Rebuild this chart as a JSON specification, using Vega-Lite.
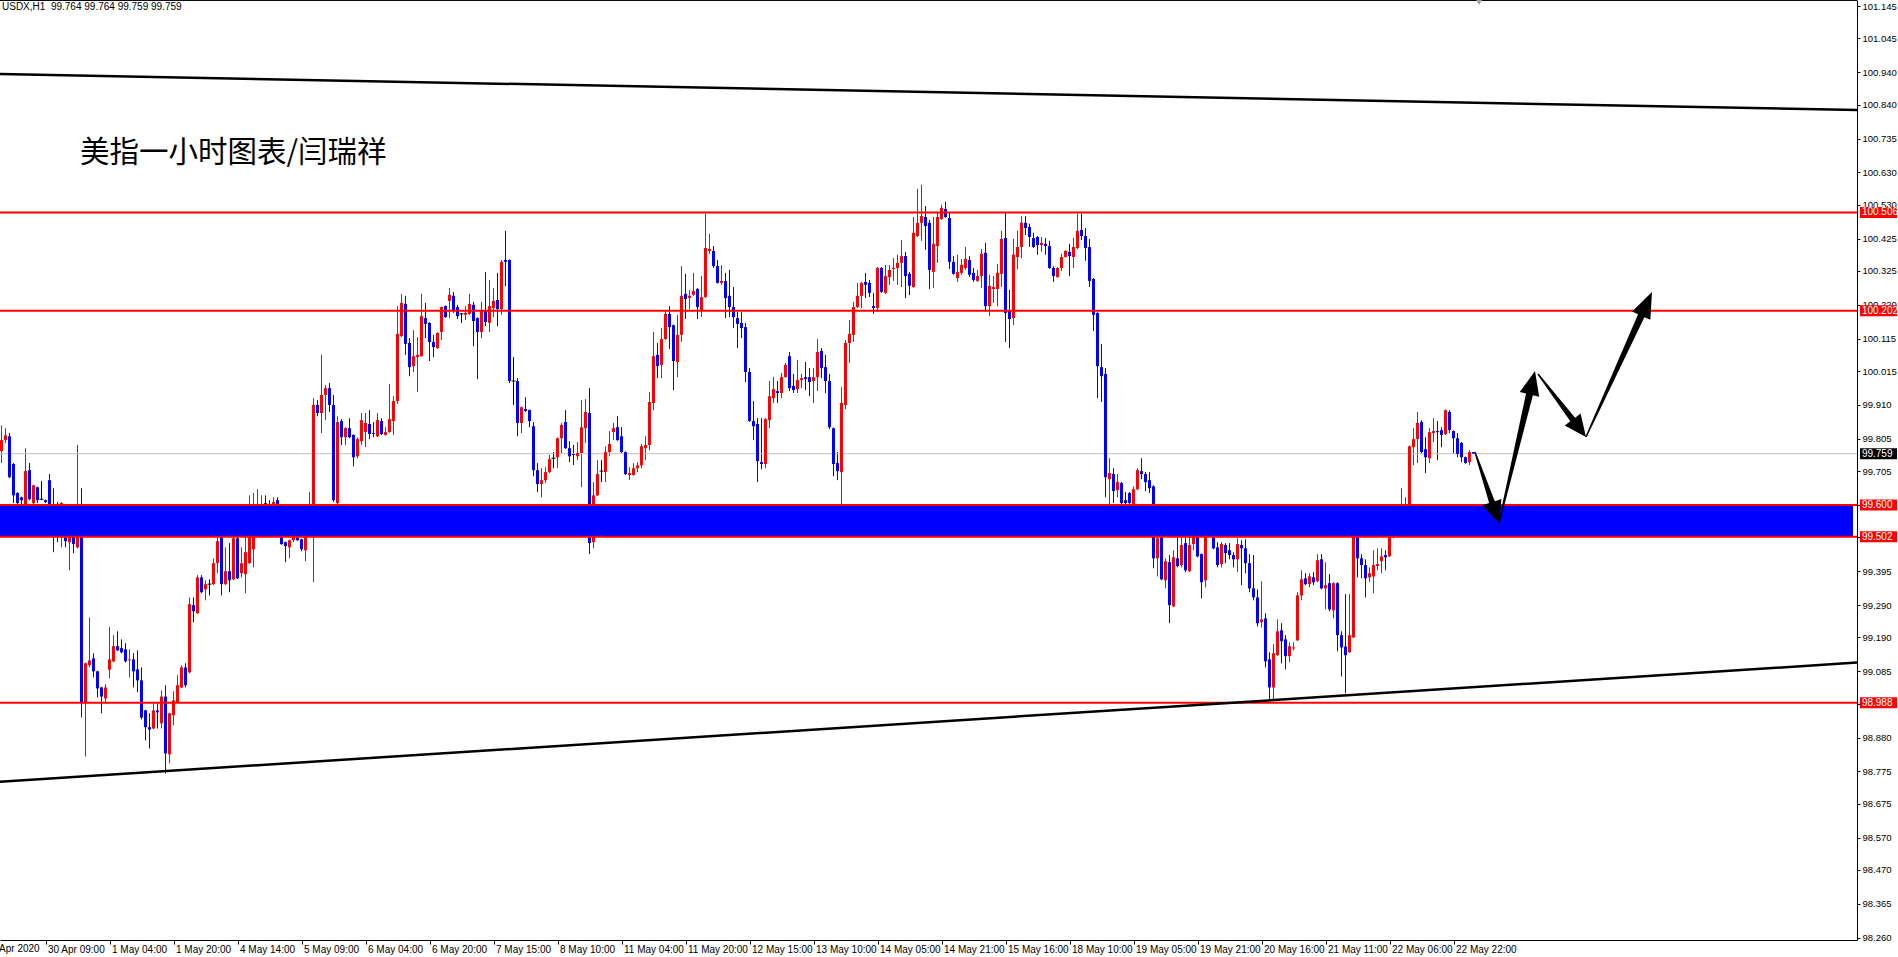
{
"$schema":"https://vega.github.io/schema/vega-lite/v6.json",
"width":1857,"height":940,
"autosize":{"type":"none"},
"padding":{"left":0,"top":0,"right":41,"bottom":17},
"background":"white",
"config":{"view":{"stroke":null},"scale":{"continuousPadding":0},"axis":{"labelFont":"Liberation Sans","labelColor":"black","domainColor":"black","tickColor":"black","grid":false,"labelOverlap":false,"labelFlush":false,"labelBound":false}},
"datasets":{
"candles":[
{"i":0,"o":99.767,"h":99.847,"l":99.730,"c":99.801},
{"i":1,"o":99.801,"h":99.838,"l":99.792,"c":99.816},
{"i":2,"o":99.813,"h":99.823,"l":99.684,"c":99.686},
{"i":3,"o":99.727,"h":99.730,"l":99.606,"c":99.630},
{"i":4,"o":99.637,"h":99.640,"l":99.599,"c":99.606},
{"i":5,"o":99.624,"h":99.626,"l":99.584,"c":99.615},
{"i":6,"o":99.556,"h":99.776,"l":99.547,"c":99.705},
{"i":7,"o":99.708,"h":99.730,"l":99.615,"c":99.618},
{"i":8,"o":99.606,"h":99.663,"l":99.575,"c":99.661},
{"i":9,"o":99.655,"h":99.657,"l":99.606,"c":99.615},
{"i":10,"o":99.618,"h":99.674,"l":99.615,"c":99.618},
{"i":11,"o":99.615,"h":99.617,"l":99.606,"c":99.609},
{"i":12,"o":99.677,"h":99.696,"l":99.553,"c":99.569},
{"i":13,"o":99.569,"h":99.652,"l":99.454,"c":99.538},
{"i":14,"o":99.553,"h":99.609,"l":99.485,"c":99.528},
{"i":15,"o":99.500,"h":99.609,"l":99.469,"c":99.606},
{"i":16,"o":99.522,"h":99.524,"l":99.469,"c":99.488},
{"i":17,"o":99.485,"h":99.541,"l":99.398,"c":99.528},
{"i":18,"o":99.522,"h":99.524,"l":99.451,"c":99.479},
{"i":19,"o":99.469,"h":99.786,"l":99.466,"c":99.590},
{"i":20,"o":99.562,"h":99.652,"l":98.942,"c":98.986},
{"i":21,"o":98.989,"h":99.112,"l":98.821,"c":99.110},
{"i":22,"o":99.104,"h":99.252,"l":99.098,"c":99.119},
{"i":23,"o":99.125,"h":99.141,"l":99.066,"c":99.085},
{"i":24,"o":99.085,"h":99.087,"l":99.004,"c":99.032},
{"i":25,"o":99.035,"h":99.037,"l":98.955,"c":99.007},
{"i":26,"o":99.001,"h":99.045,"l":98.986,"c":99.035},
{"i":27,"o":99.090,"h":99.222,"l":99.063,"c":99.122},
{"i":28,"o":99.116,"h":99.197,"l":99.113,"c":99.163},
{"i":29,"o":99.163,"h":99.209,"l":99.148,"c":99.150},
{"i":30,"o":99.157,"h":99.184,"l":99.141,"c":99.144},
{"i":31,"o":99.153,"h":99.172,"l":99.113,"c":99.116},
{"i":32,"o":99.119,"h":99.153,"l":99.066,"c":99.122},
{"i":33,"o":99.122,"h":99.141,"l":99.035,"c":99.085},
{"i":34,"o":99.091,"h":99.150,"l":99.020,"c":99.057},
{"i":35,"o":99.057,"h":99.097,"l":98.936,"c":98.942},
{"i":36,"o":98.964,"h":98.966,"l":98.871,"c":98.912},
{"i":37,"o":98.912,"h":98.955,"l":98.846,"c":98.905},
{"i":38,"o":98.908,"h":98.989,"l":98.906,"c":98.964},
{"i":39,"o":98.964,"h":98.986,"l":98.908,"c":98.958},
{"i":40,"o":98.924,"h":99.026,"l":98.908,"c":99.007},
{"i":41,"o":99.007,"h":99.042,"l":98.769,"c":98.831},
{"i":42,"o":98.828,"h":98.957,"l":98.800,"c":98.955},
{"i":43,"o":98.949,"h":99.023,"l":98.918,"c":98.995},
{"i":44,"o":98.989,"h":99.073,"l":98.986,"c":99.042},
{"i":45,"o":99.035,"h":99.104,"l":99.033,"c":99.097},
{"i":46,"o":99.097,"h":99.110,"l":99.035,"c":99.042},
{"i":47,"o":99.082,"h":99.314,"l":99.079,"c":99.293},
{"i":48,"o":99.290,"h":99.314,"l":99.237,"c":99.271},
{"i":49,"o":99.265,"h":99.383,"l":99.263,"c":99.376},
{"i":50,"o":99.376,"h":99.383,"l":99.327,"c":99.330},
{"i":51,"o":99.339,"h":99.367,"l":99.305,"c":99.355},
{"i":52,"o":99.355,"h":99.370,"l":99.320,"c":99.355},
{"i":53,"o":99.355,"h":99.435,"l":99.352,"c":99.420},
{"i":54,"o":99.420,"h":99.500,"l":99.389,"c":99.488},
{"i":55,"o":99.500,"h":99.513,"l":99.320,"c":99.355},
{"i":56,"o":99.355,"h":99.469,"l":99.352,"c":99.395},
{"i":57,"o":99.395,"h":99.482,"l":99.330,"c":99.367},
{"i":58,"o":99.370,"h":99.507,"l":99.367,"c":99.497},
{"i":59,"o":99.497,"h":99.513,"l":99.371,"c":99.373},
{"i":60,"o":99.389,"h":99.469,"l":99.376,"c":99.420},
{"i":61,"o":99.386,"h":99.507,"l":99.327,"c":99.454},
{"i":62,"o":99.420,"h":99.630,"l":99.418,"c":99.516},
{"i":63,"o":99.463,"h":99.637,"l":99.407,"c":99.547},
{"i":64,"o":99.547,"h":99.649,"l":99.544,"c":99.559},
{"i":65,"o":99.556,"h":99.630,"l":99.553,"c":99.600},
{"i":66,"o":99.606,"h":99.630,"l":99.601,"c":99.603},
{"i":67,"o":99.600,"h":99.615,"l":99.553,"c":99.569},
{"i":68,"o":99.556,"h":99.624,"l":99.531,"c":99.609},
{"i":69,"o":99.615,"h":99.624,"l":99.538,"c":99.553},
{"i":70,"o":99.500,"h":99.502,"l":99.477,"c":99.479},
{"i":71,"o":99.485,"h":99.487,"l":99.423,"c":99.473},
{"i":72,"o":99.469,"h":99.493,"l":99.435,"c":99.491},
{"i":73,"o":99.491,"h":99.525,"l":99.485,"c":99.516},
{"i":74,"o":99.500,"h":99.502,"l":99.489,"c":99.491},
{"i":75,"o":99.494,"h":99.496,"l":99.457,"c":99.463},
{"i":76,"o":99.460,"h":99.538,"l":99.426,"c":99.519},
{"i":77,"o":99.516,"h":99.640,"l":99.513,"c":99.547},
{"i":78,"o":99.547,"h":99.931,"l":99.361,"c":99.910},
{"i":79,"o":99.910,"h":99.925,"l":99.875,"c":99.885},
{"i":80,"o":99.885,"h":100.065,"l":99.823,"c":99.941},
{"i":81,"o":99.941,"h":99.972,"l":99.863,"c":99.962},
{"i":82,"o":99.962,"h":99.978,"l":99.888,"c":99.910},
{"i":83,"o":99.910,"h":99.941,"l":99.609,"c":99.615},
{"i":84,"o":99.606,"h":99.875,"l":99.575,"c":99.857},
{"i":85,"o":99.860,"h":99.866,"l":99.786,"c":99.810},
{"i":86,"o":99.810,"h":99.841,"l":99.786,"c":99.838},
{"i":87,"o":99.838,"h":99.869,"l":99.807,"c":99.810},
{"i":88,"o":99.817,"h":99.819,"l":99.720,"c":99.748},
{"i":89,"o":99.751,"h":99.810,"l":99.745,"c":99.804},
{"i":90,"o":99.798,"h":99.885,"l":99.786,"c":99.863},
{"i":91,"o":99.826,"h":99.885,"l":99.779,"c":99.854},
{"i":92,"o":99.851,"h":99.894,"l":99.804,"c":99.820},
{"i":93,"o":99.823,"h":99.857,"l":99.810,"c":99.820},
{"i":94,"o":99.813,"h":99.885,"l":99.810,"c":99.863},
{"i":95,"o":99.860,"h":99.869,"l":99.817,"c":99.820},
{"i":96,"o":99.817,"h":99.841,"l":99.815,"c":99.826},
{"i":97,"o":99.826,"h":99.975,"l":99.824,"c":99.866},
{"i":98,"o":99.860,"h":99.937,"l":99.817,"c":99.922},
{"i":99,"o":99.922,"h":100.216,"l":99.913,"c":100.130},
{"i":100,"o":100.123,"h":100.254,"l":100.120,"c":100.226},
{"i":101,"o":100.223,"h":100.248,"l":100.065,"c":100.099},
{"i":102,"o":100.102,"h":100.117,"l":99.999,"c":100.027},
{"i":103,"o":100.030,"h":100.142,"l":100.012,"c":100.061},
{"i":104,"o":100.058,"h":100.120,"l":99.950,"c":100.065},
{"i":105,"o":100.061,"h":100.254,"l":100.059,"c":100.185},
{"i":106,"o":100.179,"h":100.226,"l":100.117,"c":100.161},
{"i":107,"o":100.164,"h":100.166,"l":100.046,"c":100.105},
{"i":108,"o":100.105,"h":100.127,"l":100.058,"c":100.089},
{"i":109,"o":100.086,"h":100.135,"l":100.084,"c":100.133},
{"i":110,"o":100.136,"h":100.215,"l":100.111,"c":100.213},
{"i":111,"o":100.216,"h":100.218,"l":100.180,"c":100.182},
{"i":112,"o":100.232,"h":100.272,"l":100.179,"c":100.251},
{"i":113,"o":100.248,"h":100.260,"l":100.195,"c":100.204},
{"i":114,"o":100.213,"h":100.220,"l":100.176,"c":100.185},
{"i":115,"o":100.192,"h":100.195,"l":100.164,"c":100.192},
{"i":116,"o":100.189,"h":100.216,"l":100.173,"c":100.195},
{"i":117,"o":100.192,"h":100.254,"l":100.189,"c":100.223},
{"i":118,"o":100.220,"h":100.229,"l":100.092,"c":100.170},
{"i":119,"o":100.179,"h":100.181,"l":99.990,"c":100.136},
{"i":120,"o":100.136,"h":100.229,"l":100.117,"c":100.201},
{"i":121,"o":100.201,"h":100.322,"l":100.154,"c":100.167},
{"i":122,"o":100.164,"h":100.297,"l":100.136,"c":100.216},
{"i":123,"o":100.210,"h":100.272,"l":100.182,"c":100.232},
{"i":124,"o":100.235,"h":100.319,"l":100.154,"c":100.207},
{"i":125,"o":100.207,"h":100.359,"l":100.189,"c":100.353},
{"i":126,"o":100.359,"h":100.449,"l":100.278,"c":100.353},
{"i":127,"o":100.359,"h":100.361,"l":99.978,"c":99.984},
{"i":128,"o":99.984,"h":100.058,"l":99.910,"c":99.984},
{"i":129,"o":99.984,"h":99.993,"l":99.813,"c":99.854},
{"i":130,"o":99.854,"h":99.905,"l":99.823,"c":99.903},
{"i":131,"o":99.897,"h":99.934,"l":99.889,"c":99.891},
{"i":132,"o":99.894,"h":99.896,"l":99.841,"c":99.860},
{"i":133,"o":99.844,"h":99.857,"l":99.689,"c":99.708},
{"i":134,"o":99.708,"h":99.730,"l":99.640,"c":99.665},
{"i":135,"o":99.665,"h":99.714,"l":99.624,"c":99.677},
{"i":136,"o":99.677,"h":99.717,"l":99.668,"c":99.702},
{"i":137,"o":99.702,"h":99.755,"l":99.699,"c":99.742},
{"i":138,"o":99.745,"h":99.764,"l":99.714,"c":99.745},
{"i":139,"o":99.748,"h":99.809,"l":99.714,"c":99.807},
{"i":140,"o":99.807,"h":99.854,"l":99.761,"c":99.848},
{"i":141,"o":99.857,"h":99.894,"l":99.774,"c":99.776},
{"i":142,"o":99.776,"h":99.798,"l":99.733,"c":99.751},
{"i":143,"o":99.758,"h":99.786,"l":99.724,"c":99.755},
{"i":144,"o":99.751,"h":99.795,"l":99.739,"c":99.761},
{"i":145,"o":99.761,"h":99.925,"l":99.655,"c":99.841},
{"i":146,"o":99.838,"h":99.928,"l":99.792,"c":99.888},
{"i":147,"o":99.885,"h":99.962,"l":99.448,"c":99.482},
{"i":148,"o":99.485,"h":99.671,"l":99.466,"c":99.630},
{"i":149,"o":99.630,"h":99.739,"l":99.628,"c":99.696},
{"i":150,"o":99.705,"h":99.739,"l":99.671,"c":99.705},
{"i":151,"o":99.702,"h":99.782,"l":99.671,"c":99.764},
{"i":152,"o":99.764,"h":99.829,"l":99.751,"c":99.789},
{"i":153,"o":99.826,"h":99.854,"l":99.801,"c":99.838},
{"i":154,"o":99.841,"h":99.875,"l":99.799,"c":99.801},
{"i":155,"o":99.813,"h":99.841,"l":99.761,"c":99.764},
{"i":156,"o":99.764,"h":99.766,"l":99.693,"c":99.696},
{"i":157,"o":99.693,"h":99.717,"l":99.677,"c":99.699},
{"i":158,"o":99.693,"h":99.730,"l":99.691,"c":99.714},
{"i":159,"o":99.714,"h":99.733,"l":99.702,"c":99.723},
{"i":160,"o":99.723,"h":99.789,"l":99.714,"c":99.782},
{"i":161,"o":99.776,"h":99.813,"l":99.739,"c":99.786},
{"i":162,"o":99.786,"h":99.950,"l":99.770,"c":99.919},
{"i":163,"o":99.916,"h":100.136,"l":99.894,"c":100.061},
{"i":164,"o":100.065,"h":100.102,"l":99.993,"c":100.030},
{"i":165,"o":100.034,"h":100.148,"l":99.993,"c":100.114},
{"i":166,"o":100.114,"h":100.204,"l":100.111,"c":100.192},
{"i":167,"o":100.192,"h":100.216,"l":100.083,"c":100.151},
{"i":168,"o":100.157,"h":100.159,"l":99.956,"c":100.046},
{"i":169,"o":100.043,"h":100.189,"l":99.996,"c":100.127},
{"i":170,"o":100.127,"h":100.340,"l":100.105,"c":100.248},
{"i":171,"o":100.254,"h":100.316,"l":100.176,"c":100.238},
{"i":172,"o":100.241,"h":100.266,"l":100.207,"c":100.248},
{"i":173,"o":100.251,"h":100.319,"l":100.248,"c":100.263},
{"i":174,"o":100.269,"h":100.272,"l":100.176,"c":100.213},
{"i":175,"o":100.204,"h":100.309,"l":100.182,"c":100.244},
{"i":176,"o":100.244,"h":100.502,"l":100.241,"c":100.396},
{"i":177,"o":100.387,"h":100.440,"l":100.378,"c":100.393},
{"i":178,"o":100.387,"h":100.402,"l":100.334,"c":100.340},
{"i":179,"o":100.340,"h":100.359,"l":100.286,"c":100.288},
{"i":180,"o":100.288,"h":100.343,"l":100.282,"c":100.294},
{"i":181,"o":100.294,"h":100.319,"l":100.179,"c":100.241},
{"i":182,"o":100.248,"h":100.328,"l":100.182,"c":100.213},
{"i":183,"o":100.213,"h":100.275,"l":100.148,"c":100.182},
{"i":184,"o":100.179,"h":100.198,"l":100.086,"c":100.161},
{"i":185,"o":100.164,"h":100.198,"l":100.117,"c":100.148},
{"i":186,"o":100.151,"h":100.164,"l":99.981,"c":100.012},
{"i":187,"o":100.012,"h":100.024,"l":99.858,"c":99.860},
{"i":188,"o":99.860,"h":99.922,"l":99.801,"c":99.844},
{"i":189,"o":99.851,"h":99.869,"l":99.671,"c":99.736},
{"i":190,"o":99.733,"h":99.869,"l":99.711,"c":99.727},
{"i":191,"o":99.727,"h":99.869,"l":99.714,"c":99.866},
{"i":192,"o":99.863,"h":99.984,"l":99.838,"c":99.937},
{"i":193,"o":99.931,"h":99.997,"l":99.916,"c":99.959},
{"i":194,"o":99.953,"h":99.984,"l":99.916,"c":99.947},
{"i":195,"o":99.947,"h":100.009,"l":99.931,"c":99.996},
{"i":196,"o":99.996,"h":100.040,"l":99.994,"c":100.034},
{"i":197,"o":100.061,"h":100.074,"l":99.953,"c":99.962},
{"i":198,"o":99.969,"h":100.006,"l":99.947,"c":99.956},
{"i":199,"o":99.959,"h":100.049,"l":99.947,"c":99.987},
{"i":200,"o":99.987,"h":100.006,"l":99.962,"c":99.993},
{"i":201,"o":99.996,"h":100.043,"l":99.956,"c":99.990},
{"i":202,"o":99.996,"h":100.024,"l":99.937,"c":99.981},
{"i":203,"o":99.984,"h":100.024,"l":99.916,"c":99.996},
{"i":204,"o":99.996,"h":100.114,"l":99.953,"c":100.074},
{"i":205,"o":100.077,"h":100.086,"l":99.993,"c":100.024},
{"i":206,"o":100.027,"h":100.065,"l":99.947,"c":99.984},
{"i":207,"o":99.984,"h":100.006,"l":99.835,"c":99.841},
{"i":208,"o":99.838,"h":99.840,"l":99.689,"c":99.727},
{"i":209,"o":99.730,"h":99.764,"l":99.677,"c":99.705},
{"i":210,"o":99.702,"h":99.965,"l":99.578,"c":99.916},
{"i":211,"o":99.910,"h":100.111,"l":99.897,"c":100.102},
{"i":212,"o":100.102,"h":100.173,"l":100.040,"c":100.130},
{"i":213,"o":100.127,"h":100.229,"l":100.105,"c":100.213},
{"i":214,"o":100.213,"h":100.288,"l":100.210,"c":100.248},
{"i":215,"o":100.248,"h":100.290,"l":100.210,"c":100.288},
{"i":216,"o":100.291,"h":100.319,"l":100.241,"c":100.282},
{"i":217,"o":100.288,"h":100.297,"l":100.244,"c":100.257},
{"i":218,"o":100.216,"h":100.257,"l":100.192,"c":100.210},
{"i":219,"o":100.210,"h":100.337,"l":100.198,"c":100.334},
{"i":220,"o":100.334,"h":100.337,"l":100.257,"c":100.260},
{"i":221,"o":100.257,"h":100.343,"l":100.254,"c":100.309},
{"i":222,"o":100.306,"h":100.343,"l":100.282,"c":100.328},
{"i":223,"o":100.331,"h":100.365,"l":100.294,"c":100.334},
{"i":224,"o":100.334,"h":100.375,"l":100.282,"c":100.350},
{"i":225,"o":100.350,"h":100.421,"l":100.275,"c":100.371},
{"i":226,"o":100.371,"h":100.384,"l":100.241,"c":100.309},
{"i":227,"o":100.316,"h":100.322,"l":100.250,"c":100.279},
{"i":228,"o":100.275,"h":100.492,"l":100.273,"c":100.443},
{"i":229,"o":100.433,"h":100.579,"l":100.430,"c":100.474},
{"i":230,"o":100.474,"h":100.592,"l":100.418,"c":100.495},
{"i":231,"o":100.492,"h":100.526,"l":100.390,"c":100.464},
{"i":232,"o":100.474,"h":100.483,"l":100.269,"c":100.328},
{"i":233,"o":100.322,"h":100.492,"l":100.272,"c":100.409},
{"i":234,"o":100.402,"h":100.505,"l":100.350,"c":100.492},
{"i":235,"o":100.486,"h":100.530,"l":100.483,"c":100.520},
{"i":236,"o":100.517,"h":100.539,"l":100.489,"c":100.492},
{"i":237,"o":100.489,"h":100.505,"l":100.331,"c":100.353},
{"i":238,"o":100.353,"h":100.371,"l":100.313,"c":100.316},
{"i":239,"o":100.303,"h":100.375,"l":100.291,"c":100.322},
{"i":240,"o":100.319,"h":100.362,"l":100.313,"c":100.344},
{"i":241,"o":100.334,"h":100.399,"l":100.328,"c":100.362},
{"i":242,"o":100.359,"h":100.371,"l":100.306,"c":100.313},
{"i":243,"o":100.319,"h":100.334,"l":100.291,"c":100.297},
{"i":244,"o":100.294,"h":100.328,"l":100.291,"c":100.309},
{"i":245,"o":100.309,"h":100.393,"l":100.272,"c":100.378},
{"i":246,"o":100.381,"h":100.412,"l":100.198,"c":100.216},
{"i":247,"o":100.216,"h":100.313,"l":100.185,"c":100.279},
{"i":248,"o":100.269,"h":100.309,"l":100.226,"c":100.275},
{"i":249,"o":100.269,"h":100.347,"l":100.216,"c":100.319},
{"i":250,"o":100.316,"h":100.449,"l":100.275,"c":100.424},
{"i":251,"o":100.427,"h":100.505,"l":100.105,"c":100.195},
{"i":252,"o":100.204,"h":100.266,"l":100.086,"c":100.176},
{"i":253,"o":100.179,"h":100.424,"l":100.157,"c":100.375},
{"i":254,"o":100.368,"h":100.449,"l":100.331,"c":100.399},
{"i":255,"o":100.399,"h":100.495,"l":100.365,"c":100.474},
{"i":256,"o":100.474,"h":100.495,"l":100.436,"c":100.458},
{"i":257,"o":100.461,"h":100.471,"l":100.399,"c":100.430},
{"i":258,"o":100.427,"h":100.443,"l":100.396,"c":100.399},
{"i":259,"o":100.430,"h":100.433,"l":100.375,"c":100.405},
{"i":260,"o":100.405,"h":100.430,"l":100.384,"c":100.412},
{"i":261,"o":100.409,"h":100.427,"l":100.375,"c":100.402},
{"i":262,"o":100.402,"h":100.418,"l":100.331,"c":100.334},
{"i":263,"o":100.334,"h":100.340,"l":100.291,"c":100.309},
{"i":264,"o":100.306,"h":100.337,"l":100.304,"c":100.334},
{"i":265,"o":100.334,"h":100.378,"l":100.325,"c":100.368},
{"i":266,"o":100.368,"h":100.389,"l":100.366,"c":100.387},
{"i":267,"o":100.384,"h":100.409,"l":100.309,"c":100.371},
{"i":268,"o":100.368,"h":100.427,"l":100.334,"c":100.399},
{"i":269,"o":100.396,"h":100.502,"l":100.393,"c":100.449},
{"i":270,"o":100.452,"h":100.502,"l":100.421,"c":100.433},
{"i":271,"o":100.433,"h":100.458,"l":100.356,"c":100.396},
{"i":272,"o":100.399,"h":100.424,"l":100.275,"c":100.294},
{"i":273,"o":100.300,"h":100.303,"l":100.139,"c":100.189},
{"i":274,"o":100.195,"h":100.197,"l":99.931,"c":100.030},
{"i":275,"o":100.027,"h":100.099,"l":99.919,"c":99.999},
{"i":276,"o":100.006,"h":100.024,"l":99.624,"c":99.686},
{"i":277,"o":99.680,"h":99.745,"l":99.600,"c":99.699},
{"i":278,"o":99.696,"h":99.714,"l":99.606,"c":99.643},
{"i":279,"o":99.646,"h":99.696,"l":99.624,"c":99.671},
{"i":280,"o":99.668,"h":99.671,"l":99.600,"c":99.606},
{"i":281,"o":99.615,"h":99.640,"l":99.600,"c":99.606},
{"i":282,"o":99.637,"h":99.640,"l":99.600,"c":99.606},
{"i":283,"o":99.575,"h":99.658,"l":99.573,"c":99.649},
{"i":284,"o":99.649,"h":99.714,"l":99.646,"c":99.708},
{"i":285,"o":99.705,"h":99.745,"l":99.680,"c":99.696},
{"i":286,"o":99.696,"h":99.702,"l":99.643,"c":99.671},
{"i":287,"o":99.677,"h":99.702,"l":99.637,"c":99.652},
{"i":288,"o":99.658,"h":99.661,"l":99.404,"c":99.435},
{"i":289,"o":99.435,"h":99.538,"l":99.379,"c":99.497},
{"i":290,"o":99.500,"h":99.503,"l":99.367,"c":99.370},
{"i":291,"o":99.367,"h":99.435,"l":99.342,"c":99.426},
{"i":292,"o":99.423,"h":99.445,"l":99.234,"c":99.290},
{"i":293,"o":99.286,"h":99.460,"l":99.284,"c":99.438},
{"i":294,"o":99.435,"h":99.503,"l":99.407,"c":99.411},
{"i":295,"o":99.414,"h":99.559,"l":99.407,"c":99.476},
{"i":296,"o":99.482,"h":99.500,"l":99.392,"c":99.398},
{"i":297,"o":99.395,"h":99.562,"l":99.393,"c":99.476},
{"i":298,"o":99.479,"h":99.531,"l":99.460,"c":99.525},
{"i":299,"o":99.500,"h":99.513,"l":99.438,"c":99.441},
{"i":300,"o":99.448,"h":99.450,"l":99.311,"c":99.361},
{"i":301,"o":99.367,"h":99.540,"l":99.345,"c":99.538},
{"i":302,"o":99.531,"h":99.596,"l":99.522,"c":99.556},
{"i":303,"o":99.500,"h":99.513,"l":99.463,"c":99.466},
{"i":304,"o":99.469,"h":99.485,"l":99.407,"c":99.414},
{"i":305,"o":99.417,"h":99.485,"l":99.407,"c":99.479},
{"i":306,"o":99.476,"h":99.482,"l":99.420,"c":99.451},
{"i":307,"o":99.460,"h":99.482,"l":99.432,"c":99.445},
{"i":308,"o":99.445,"h":99.454,"l":99.407,"c":99.432},
{"i":309,"o":99.432,"h":99.497,"l":99.392,"c":99.479},
{"i":310,"o":99.476,"h":99.491,"l":99.352,"c":99.466},
{"i":311,"o":99.466,"h":99.494,"l":99.389,"c":99.420},
{"i":312,"o":99.420,"h":99.448,"l":99.330,"c":99.342},
{"i":313,"o":99.342,"h":99.445,"l":99.305,"c":99.314},
{"i":314,"o":99.314,"h":99.339,"l":99.224,"c":99.234},
{"i":315,"o":99.237,"h":99.364,"l":99.221,"c":99.246},
{"i":316,"o":99.249,"h":99.265,"l":99.097,"c":99.116},
{"i":317,"o":99.122,"h":99.144,"l":98.998,"c":99.035},
{"i":318,"o":99.035,"h":99.169,"l":98.998,"c":99.141},
{"i":319,"o":99.135,"h":99.246,"l":99.133,"c":99.209},
{"i":320,"o":99.212,"h":99.234,"l":99.110,"c":99.178},
{"i":321,"o":99.184,"h":99.197,"l":99.091,"c":99.132},
{"i":322,"o":99.132,"h":99.175,"l":99.113,"c":99.163},
{"i":323,"o":99.156,"h":99.175,"l":99.150,"c":99.159},
{"i":324,"o":99.181,"h":99.330,"l":99.179,"c":99.320},
{"i":325,"o":99.320,"h":99.398,"l":99.305,"c":99.370},
{"i":326,"o":99.373,"h":99.389,"l":99.352,"c":99.355},
{"i":327,"o":99.355,"h":99.389,"l":99.345,"c":99.379},
{"i":328,"o":99.376,"h":99.392,"l":99.352,"c":99.361},
{"i":329,"o":99.364,"h":99.448,"l":99.361,"c":99.429},
{"i":330,"o":99.432,"h":99.448,"l":99.339,"c":99.342},
{"i":331,"o":99.342,"h":99.423,"l":99.277,"c":99.352},
{"i":332,"o":99.358,"h":99.386,"l":99.271,"c":99.277},
{"i":333,"o":99.274,"h":99.361,"l":99.249,"c":99.358},
{"i":334,"o":99.358,"h":99.361,"l":99.147,"c":99.197},
{"i":335,"o":99.197,"h":99.209,"l":99.069,"c":99.159},
{"i":336,"o":99.162,"h":99.324,"l":99.017,"c":99.135},
{"i":337,"o":99.144,"h":99.324,"l":99.142,"c":99.197},
{"i":338,"o":99.190,"h":99.531,"l":99.188,"c":99.522},
{"i":339,"o":99.513,"h":99.531,"l":99.376,"c":99.435},
{"i":340,"o":99.435,"h":99.448,"l":99.373,"c":99.414},
{"i":341,"o":99.414,"h":99.432,"l":99.314,"c":99.373},
{"i":342,"o":99.376,"h":99.407,"l":99.361,"c":99.389},
{"i":343,"o":99.379,"h":99.460,"l":99.327,"c":99.414},
{"i":344,"o":99.411,"h":99.466,"l":99.398,"c":99.417},
{"i":345,"o":99.426,"h":99.466,"l":99.389,"c":99.441},
{"i":346,"o":99.445,"h":99.460,"l":99.398,"c":99.438},
{"i":347,"o":99.441,"h":99.547,"l":99.439,"c":99.510},
{"i":348,"o":99.510,"h":99.593,"l":99.497,"c":99.559},
{"i":349,"o":99.559,"h":99.596,"l":99.553,"c":99.581},
{"i":350,"o":99.575,"h":99.652,"l":99.553,"c":99.584},
{"i":351,"o":99.584,"h":99.624,"l":99.553,"c":99.600},
{"i":352,"o":99.596,"h":99.784,"l":99.581,"c":99.782},
{"i":353,"o":99.779,"h":99.838,"l":99.724,"c":99.804},
{"i":354,"o":99.804,"h":99.888,"l":99.730,"c":99.854},
{"i":355,"o":99.857,"h":99.863,"l":99.758,"c":99.764},
{"i":356,"o":99.773,"h":99.810,"l":99.699,"c":99.748},
{"i":357,"o":99.745,"h":99.838,"l":99.730,"c":99.826},
{"i":358,"o":99.823,"h":99.869,"l":99.795,"c":99.829},
{"i":359,"o":99.829,"h":99.860,"l":99.739,"c":99.826},
{"i":360,"o":99.832,"h":99.841,"l":99.779,"c":99.817},
{"i":361,"o":99.820,"h":99.896,"l":99.817,"c":99.894},
{"i":362,"o":99.888,"h":99.894,"l":99.823,"c":99.832},
{"i":363,"o":99.829,"h":99.831,"l":99.761,"c":99.807},
{"i":364,"o":99.807,"h":99.823,"l":99.748,"c":99.758},
{"i":365,"o":99.792,"h":99.795,"l":99.733,"c":99.748},
{"i":366,"o":99.748,"h":99.750,"l":99.728,"c":99.730},
{"i":367,"o":99.733,"h":99.770,"l":99.724,"c":99.764},
{"i":368,"o":99.764,"h":99.764,"l":99.759,"c":99.759}
],
"levels":[{"p":100.506},{"p":100.202},{"p":99.600},{"p":99.502},{"p":98.988}],
"tags":[{"p":100.506},{"p":100.202},{"p":99.600},{"p":99.502},{"p":98.988},{"p":99.759}],
"trends":[{"x1":-0.375,"p1":100.935,"x2":463.875,"p2":100.823},{"x1":-0.375,"p1":98.743,"x2":463.875,"p2":99.112}],
"arrows":[
{"a":1,"k":0,"x":368.21,"p":99.7635},{"a":1,"k":1,"x":371.91,"p":99.606},{"a":1,"k":2,"x":370.25,"p":99.599},{"a":1,"k":3,"x":374.375,"p":99.5443},{"a":1,"k":4,"x":374.985,"p":99.6188},{"a":1,"k":5,"x":373.325,"p":99.6119},{"a":1,"k":6,"x":368.54,"p":99.7649},
{"a":2,"k":0,"x":374.545,"p":99.5438},{"a":2,"k":1,"x":382.845,"p":99.9402},{"a":2,"k":2,"x":384.425,"p":99.9356},{"a":2,"k":3,"x":383.375,"p":100.0151},{"a":2,"k":4,"x":379.56,"p":99.9499},{"a":2,"k":5,"x":381.14,"p":99.9453},{"a":2,"k":6,"x":374.205,"p":99.5448},
{"a":3,"k":0,"x":383.985,"p":100.0045},{"a":3,"k":1,"x":392.2,"p":99.8592},{"a":3,"k":2,"x":390.805,"p":99.8461},{"a":3,"k":3,"x":396.125,"p":99.8107},{"a":3,"k":4,"x":394.78,"p":99.8836},{"a":3,"k":5,"x":393.39,"p":99.8705},{"a":3,"k":6,"x":384.265,"p":100.0071},
{"a":4,"k":0,"x":396.285,"p":99.8098},{"a":4,"k":1,"x":410.73,"p":100.1819},{"a":4,"k":2,"x":412.2075,"p":100.1736},{"a":4,"k":3,"x":412.625,"p":100.2597},{"a":4,"k":4,"x":407.6575,"p":100.1992},{"a":4,"k":5,"x":409.135,"p":100.1909},{"a":4,"k":6,"x":395.965,"p":99.8116}
]
},
"layer":[
{"data":{"name":"candles"},"mark":{"type":"rule","strokeWidth":1},
 "encoding":{
  "x":{"field":"i","type":"quantitative","scale":{"domain":[-0.375,463.875],"nice":false,"zero":false,"padding":0},
       "axis":{"orient":"bottom","title":null,"tickCount":60,"values":[11,27,43,59,75,91,107,123,139,155,171,187,203,219,235,251,267,283,299,315,331,347,363],
       "labelExpr":"['30 Apr 09:00','1 May 04:00','1 May 20:00','4 May 14:00','5 May 09:00','6 May 04:00','6 May 20:00','7 May 15:00','8 May 10:00','11 May 04:00','11 May 20:00','12 May 15:00','13 May 10:00','14 May 05:00','14 May 21:00','15 May 16:00','18 May 10:00','19 May 05:00','19 May 21:00','20 May 16:00','21 May 11:00','22 May 06:00','22 May 22:00'][(datum.value-11)/16]",
       "labelAlign":"left","labelBaseline":"top","labelOffset":2,"labelPadding":0,"tickSize":4,"labelFontSize":10,"labelFlush":false,"labelOverlap":false}},
  "y":{"field":"l","type":"quantitative","scale":{"domain":[98.253,101.164],"nice":false,"zero":false,"padding":0},
       "axis":{"orient":"right","title":null,"tickCount":60,"values":[101.145,101.045,100.940,100.840,100.735,100.630,100.530,100.425,100.325,100.220,100.115,100.015,99.910,99.805,99.705,99.600,99.500,99.395,99.290,99.190,99.085,98.985,98.880,98.775,98.675,98.570,98.470,98.365,98.260],
       "format":".3f","tickSize":3,"labelPadding":2,"labelFontSize":9.5,"labelFlush":false,"labelOverlap":false}},
  "y2":{"field":"h"},
  "color":{"condition":[{"test":"datum.c > datum.o","value":"#ff0000"},{"test":"datum.c < datum.o","value":"#0000ff"}],"value":"#000000"}}},
{"data":{"values":[{}]},"mark":{"type":"rule","color":"#c0c0c0","strokeWidth":1},
 "encoding":{"y":{"datum":99.759,"type":"quantitative"}}},
{"data":{"name":"candles"},"mark":{"type":"bar","width":3},
 "encoding":{"x":{"field":"i","type":"quantitative"},"y":{"field":"o","type":"quantitative"},"y2":{"field":"c"},
  "color":{"condition":[{"test":"datum.c > datum.o","value":"#ff0000"},{"test":"datum.c < datum.o","value":"#0000ff"}],"value":"#000000"}}},
{"data":{"name":"candles"},"transform":[{"filter":"datum.o == datum.c"}],"mark":{"type":"tick","orient":"horizontal","size":4,"thickness":1,"color":"#000000","opacity":1},
 "encoding":{"x":{"field":"i","type":"quantitative"},"y":{"field":"o","type":"quantitative"}}},
{"data":{"values":[{}]},"mark":{"type":"rect","color":"#0000ff"},
 "encoding":{"x":{"datum":-0.375,"type":"quantitative"},"x2":{"datum":462.875},"y":{"datum":99.600,"type":"quantitative"},"y2":{"datum":99.502}}},
{"data":{"name":"levels"},"mark":{"type":"rule","color":"#ff0000","strokeWidth":2},
 "encoding":{"y":{"field":"p","type":"quantitative"}}},
{"data":{"name":"trends"},"mark":{"type":"rule","color":"#000000","strokeWidth":2.5},
 "encoding":{"x":{"field":"x1","type":"quantitative"},"x2":{"field":"x2"},"y":{"field":"p1","type":"quantitative"},"y2":{"field":"p2"}}},
{"data":{"name":"arrows"},"mark":{"type":"line","filled":true,"color":"#000000","interpolate":"linear"},
 "encoding":{"x":{"field":"x","type":"quantitative"},"y":{"field":"p","type":"quantitative"},"detail":{"field":"a"},"order":{"field":"k","type":"quantitative"}}},
{"data":{"values":[{}]},"mark":{"type":"text","text":"美指一小时图表/闫瑞祥","font":"Noto Sans CJK SC","fontSize":29.5,"align":"left","baseline":"middle","color":"#000000"},
 "encoding":{"x":{"datum":19.6,"type":"quantitative"},"y":{"datum":100.69,"type":"quantitative"}}},
{"data":{"values":[{}]},"mark":{"type":"text","text":"USDX,H1\u00a0\u00a099.764 99.764 99.759 99.759","font":"Liberation Sans","fontSize":10,"align":"left","baseline":"middle","color":"#000000"},
 "encoding":{"x":{"datum":0.125,"type":"quantitative"},"y":{"datum":101.142,"type":"quantitative"}}},
{"data":{"values":[{}]},"mark":{"type":"text","text":"Apr 2020","font":"Liberation Sans","fontSize":10,"align":"left","baseline":"top","color":"#000000"},
 "encoding":{"x":{"datum":-0.6,"type":"quantitative"},"y":{"datum":98.241,"type":"quantitative"}}},
{"data":{"name":"tags"},"mark":{"type":"point","filled":true,"opacity":1,"strokeWidth":0,"size":1369,"shape":"M-1,-0.297L1,-0.297L1,0.297L-1,0.297Z"},
 "encoding":{"x":{"datum":469.25,"type":"quantitative"},"y":{"field":"p","type":"quantitative"},
  "color":{"condition":{"test":"datum.p == 99.759","value":"#000000"},"value":"#ff0000"}}},
{"data":{"name":"tags"},"mark":{"type":"text","font":"Liberation Sans","fontSize":10,"align":"left","baseline":"middle","color":"#ffffff"},
 "encoding":{"x":{"datum":465.1,"type":"quantitative"},"y":{"field":"p","type":"quantitative"},"text":{"field":"p","format":".3f"}}},
{"data":{"values":[{}]},"mark":{"type":"rule","color":"#000000","strokeWidth":1},
 "encoding":{"y":{"datum":101.1625,"type":"quantitative"}}},
{"data":{"values":[{}]},"mark":{"type":"point","shape":"triangle-down","filled":true,"opacity":1,"size":40,"color":"#a0a0a0"},
 "encoding":{"x":{"datum":369.4,"type":"quantitative"},"y":{"datum":101.157,"type":"quantitative"}}}
]
}
